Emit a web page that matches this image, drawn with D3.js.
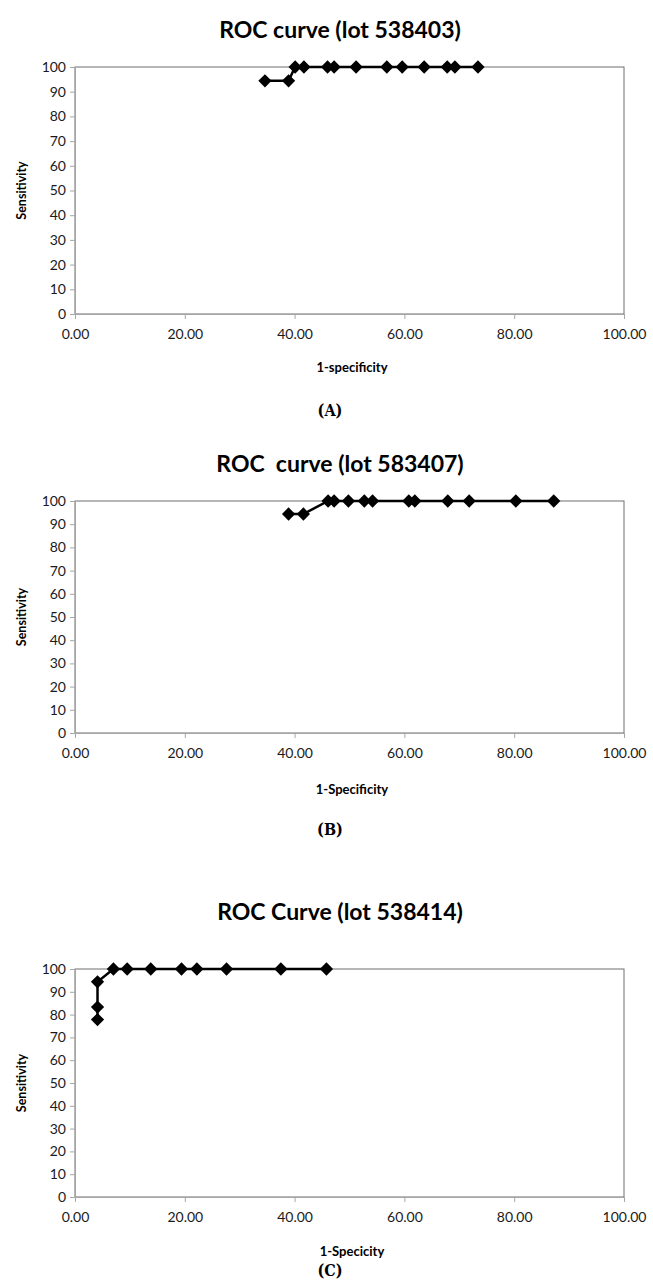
<!DOCTYPE html>
<html>
<head>
<meta charset="utf-8">
<script src="https://cdn.jsdelivr.net/npm/d3@7"></script>
<style>
  body { margin: 0; background: #fff; }
  svg text { fill: #000; }
  .tick text { font-family: Lato, "Open Sans", sans-serif; font-size: 14px; fill: #1a1a1a; }
</style>
</head>
<body>
<div class="charts"></div>
<script>
// values
const titles = ["ROC curve (lot 538403)", "ROC\u00a0 curve (lot 583407)", "ROC Curve (lot 538414)"]
const xTitles = ["1-specificity", "1-Specificity", "1-Specicity"]
const letters = ["(A)", "(B)", "(C)"]

const specA = [34.6, 38.9, 40.1, 41.7, 46.0, 47.2, 51.2, 56.8, 59.6, 63.6, 67.8, 69.2, 73.4]
const sensA = [94.4, 94.4, 100, 100, 100, 100, 100, 100, 100, 100, 100, 100, 100]

const specB = [38.9, 41.6, 46.1, 47.2, 49.8, 52.7, 54.2, 60.8, 61.9, 67.9, 71.8, 80.3, 87.2]
const sensB = [94.4, 94.4, 100, 100, 100, 100, 100, 100, 100, 100, 100, 100, 100]

const specC = [4.1, 4.1, 4.1, 7.0, 9.5, 13.8, 19.4, 22.2, 27.6, 37.5, 45.8]
const sensC = [77.8, 83.3, 94.4, 100, 100, 100, 100, 100, 100, 100, 100]

const xTickValues = [0, 20, 40, 60, 80, 100]
const yTickValues = [0, 10, 20, 30, 40, 50, 60, 70, 80, 90, 100]

const series = [
    {x: specA, y: sensA},
    {x: specB, y: sensB},
    {x: specC, y: sensC}
]

// layout of the three stacked panels
const layout = [
    {title: 30, top: 67, bottom: 314, ticks: 336, xt: 367, letter: 410},
    {title: 464, top: 501, bottom: 733, ticks: 757, xt: 789, letter: 829},
    {title: 912, top: 969, bottom: 1197, ticks: 1219, xt: 1251, letter: 1270}
]
const left = 75, right = 624

const svg = d3.select(".charts").append("svg")
    .attr("width", 653)
    .attr("height", 1287)

const xScale = d3.scaleLinear().domain([0, 100]).range([left, right])
const diamond = d3.symbol(d3.symbolSquare, 88)

series.forEach((s, i) => {
    const L = layout[i]
    const yScale = d3.scaleLinear().domain([0, 100]).range([L.bottom, L.top])
    const g = svg.append("g")

    g.append("text")
        .attr("x", 340).attr("y", L.title)
        .attr("dy", "0.35em")
        .attr("text-anchor", "middle")
        .style("font-family", "Lato, sans-serif")
        .style("font-weight", "bold")
        .style("font-size", "23px")
        .text(titles[i])

    // plot area frame
    g.append("rect")
        .attr("x", left).attr("y", L.top)
        .attr("width", right - left).attr("height", L.bottom - L.top)
        .attr("fill", "none")
        .attr("stroke", "#6f6f6f")

    const yAxis = g.append("g")
        .attr("transform", `translate(${left},0)`)
        .call(d3.axisLeft(yScale).tickValues(yTickValues).tickSize(5).tickPadding(4).tickFormat(d3.format("d")))
    const xAxis = g.append("g")
        .attr("transform", `translate(0,${L.bottom})`)
        .call(d3.axisBottom(xScale).tickValues(xTickValues).tickSize(5).tickPadding(10).tickFormat(d3.format(".2f")))
    ;[yAxis, xAxis].forEach(ax => {
        ax.select(".domain").attr("stroke", "#a6a6a6")
        ax.selectAll(".tick line").attr("stroke", "#a6a6a6")
    })

    g.append("text")
        .attr("transform", `translate(22,${(L.top + L.bottom) / 2}) rotate(-90)`)
        .attr("text-anchor", "middle")
        .attr("dy", "0.35em")
        .style("font-family", "Lato, sans-serif")
        .style("font-weight", "bold")
        .style("font-size", "12.5px")
        .text("Sensitivity")

    g.append("text")
        .attr("x", 352).attr("y", L.xt)
        .attr("dy", "0.35em")
        .attr("text-anchor", "middle")
        .style("font-family", "Lato, sans-serif")
        .style("font-weight", "bold")
        .style("font-size", "13px")
        .text(xTitles[i])

    g.append("text")
        .attr("x", 330).attr("y", L.letter)
        .attr("dy", "0.35em")
        .attr("text-anchor", "middle")
        .style("font-family", "'DejaVu Serif Condensed', 'DejaVu Serif', serif")
        .style("font-weight", "bold")
        .style("font-size", "16px")
        .text(letters[i])

    const pts = s.x.map((v, j) => [v, s.y[j]])
    const line = d3.line().x(d => xScale(d[0])).y(d => yScale(d[1]))

    g.append("path")
        .attr("d", line(pts))
        .attr("fill", "none")
        .attr("stroke", "#000")
        .attr("stroke-width", 2.5)

    g.selectAll(".pt")
        .data(pts)
        .join("path")
        .attr("class", "pt")
        .attr("d", diamond)
        .attr("transform", d => `translate(${xScale(d[0])},${yScale(d[1])}) rotate(45)`)
        .attr("fill", "#000")
})
</script>
</body>
</html>
